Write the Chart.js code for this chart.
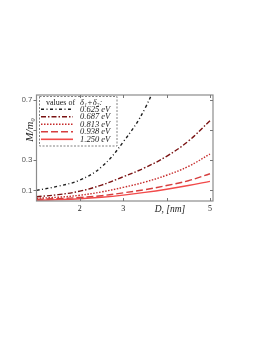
<!DOCTYPE html>
<html>
<head>
<meta charset="utf-8">
<script src="https://cdn.jsdelivr.net/npm/chart.js@4/dist/chart.umd.min.js"></script>
<style>
  html, body { margin: 0; padding: 0; background: #fff; }
</style>
</head>
<body>
<canvas id="massChart" width="262" height="339"></canvas>
<script>
// D in nm
const dValues = [1, 1.5, 2, 2.5, 3, 3.5, 4, 4.5, 5];

// M/m0 for each value of delta1+delta2
const mass0625 = [0.1, 0.128, 0.168, 0.255, 0.42, 0.64, 0.98, null, null];
const mass0687 = [0.058, 0.072, 0.095, 0.135, 0.19, 0.25, 0.325, 0.425, 0.56];
const mass0813 = [0.048, 0.055, 0.068, 0.09, 0.12, 0.155, 0.2, 0.258, 0.34];
const mass0938 = [0.041, 0.046, 0.053, 0.065, 0.084, 0.105, 0.132, 0.164, 0.21];
const mass1250 = [0.035, 0.039, 0.045, 0.055, 0.069, 0.087, 0.108, 0.132, 0.16];

const seriesLabels = ["0.625 eV", "0.687 eV", "0.813 eV", "0.938 eV", "1.250 eV"];

const xTicks = [2, 3, 4, 5];
const xTickLabels = ["2", "3", "", "5"];
const yTicks = [0.1, 0.3, 0.5, 0.7];
const yTickLabels = ["0.1", "0.3", "", "0.7"];

const styles = [
  { color: "#1e1e1e", dash: [3, 2.5, 1, 2.5] },
  { color: "#7a1212", dash: [5, 2, 1.5, 2] },
  { color: "#c62a2a", dash: [1.5, 1.5] },
  { color: "#d63e3e", dash: [7, 3] },
  { color: "#f24a4a", dash: [] }
];

const allSeries = [mass0625, mass0687, mass0813, mass0938, mass1250];

function toPoints(vals) {
  return vals.map((v, i) => ({ x: dValues[i], y: v }));
}

const datasets = allSeries.map((vals, i) => ({
  label: seriesLabels[i],
  data: toPoints(vals),
  borderColor: styles[i].color,
  borderDash: styles[i].dash,
  borderWidth: 1.4,
  pointRadius: 0,
  tension: 0.4,
  spanGaps: false,
  fill: false
}));

// frame, ticks, axis titles and the dashed legend box
const decorPlugin = {
  id: "decor",
  afterDraw(chart) {
    const ctx = chart.ctx;
    const a = chart.chartArea;
    const xs = chart.scales.x;
    const ys = chart.scales.y;

    ctx.save();
    ctx.strokeStyle = "#8c8c8c";
    ctx.lineWidth = 1.2;
    ctx.setLineDash([]);
    ctx.strokeRect(a.left, a.top, a.right - a.left, a.bottom - a.top);

    ctx.lineWidth = 1;
    ctx.strokeStyle = "#777";
    ctx.beginPath();
    xTicks.forEach(t => {
      const px = Math.round(xs.getPixelForValue(t)) + 0.5;
      ctx.moveTo(px, a.bottom); ctx.lineTo(px, a.bottom - 3);
      ctx.moveTo(px, a.top); ctx.lineTo(px, a.top + 3);
    });
    yTicks.forEach(t => {
      const py = Math.round(ys.getPixelForValue(t)) + 0.5;
      ctx.moveTo(a.left, py); ctx.lineTo(a.left - 3, py);
      ctx.moveTo(a.right, py); ctx.lineTo(a.right - 3, py);
    });
    ctx.stroke();

    // axis titles
    ctx.fillStyle = "#222";
    ctx.font = "italic 11px 'Liberation Serif'";
    ctx.textAlign = "center";
    ctx.textBaseline = "middle";
    ctx.save();
    ctx.translate(30.5, ys.getPixelForValue(0.5));
    ctx.rotate(-Math.PI / 2);
    ctx.fillText("M/m\u2080", 0, 0);
    ctx.restore();

    ctx.font = "italic 9.5px 'Liberation Serif'";
    ctx.fillText("D, [nm]", 170, 209.5);

    // legend
    ctx.strokeStyle = "#808080";
    ctx.lineWidth = 1;
    ctx.setLineDash([2, 1.5]);
    ctx.strokeRect(39.5, 96.5, 77.5, 49.5);

    ctx.textAlign = "left";
    ctx.fillStyle = "#222";
    ctx.font = "8px 'Liberation Serif'";
    ctx.fillText("values of", 46, 102.5);
    ctx.font = "italic 8.5px 'Liberation Serif'";
    ctx.fillText("\u03b4\u2081+\u03b4\u2082:", 80, 102.5);

    seriesLabels.forEach((lab, i) => {
      const y = 109.3 + i * 7.5;
      ctx.strokeStyle = styles[i].color;
      ctx.lineWidth = 1.6;
      ctx.setLineDash(styles[i].dash);
      ctx.beginPath();
      ctx.moveTo(41, y);
      ctx.lineTo(73, y);
      ctx.stroke();
      ctx.fillStyle = "#222";
      ctx.font = "italic 8.5px 'Liberation Serif'";
      ctx.fillText(lab, 80, y);
    });
    ctx.restore();
  }
};

new Chart(document.getElementById("massChart"), {
  type: "line",
  data: { datasets: datasets },
  options: {
    responsive: false,
    animation: false,
    devicePixelRatio: 1,
    layout: { padding: { left: 22, top: 95, right: 49, bottom: 118 } },
    plugins: {
      legend: { display: false },
      tooltip: { enabled: false }
    },
    scales: {
      x: {
        type: "linear",
        min: 1,
        max: 5.07,
        grid: { display: false, drawTicks: false },
        border: { display: false },
        afterBuildTicks: s => { s.ticks = xTicks.map(v => ({ value: v })); },
        afterFit: s => { s.height = 20; },
        ticks: {
          padding: 3,
          color: "#222",
          font: { family: "Liberation Serif", size: 8 },
          maxRotation: 0,
          callback: (v) => xTickLabels[xTicks.indexOf(v)]
        }
      },
      y: {
        type: "linear",
        min: 0.03,
        max: 0.73,
        grid: { display: false, drawTicks: false },
        border: { display: false },
        afterBuildTicks: s => { s.ticks = yTicks.map(v => ({ value: v })); },
        afterFit: s => { s.width = 14.5; },
        ticks: {
          padding: 4,
          color: "#555",
          font: { family: "Liberation Sans", size: 8 },
          callback: (v) => yTickLabels[yTicks.indexOf(v)]
        }
      }
    }
  },
  plugins: [decorPlugin]
});
</script>
</body>
</html>
